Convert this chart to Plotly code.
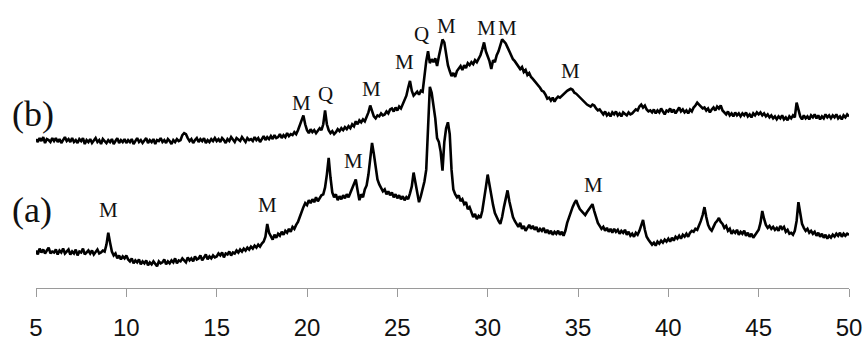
import plotly.graph_objects as go

# 2-theta scan: 5.0 .. 50.0 deg, step 0.1 deg
TWO_THETA_START = 5.0
TWO_THETA_STEP = 0.1

# Pattern (a) intensities (arbitrary units), one row per degree (x.0 .. x.9)
pattern_a = [
    38, 34, 40, 36, 39, 35, 38, 41, 35, 37,   # 5
    36, 39, 34, 38, 36, 40, 35, 37, 39, 34,   # 6
    37, 35, 39, 33, 37, 36, 40, 34, 36, 38,   # 7
    35, 38, 34, 37, 39, 35, 36, 38, 37, 44,   # 8
    56, 46, 37, 33, 35, 30, 33, 29, 32, 30,   # 9
    33, 29, 27, 30, 25, 28, 26, 29, 24, 27,   # 10
    25, 28, 23, 26, 24, 27, 25, 22, 27, 25,   # 11
    26, 29, 24, 27, 25, 28, 26, 30, 25, 28,   # 12
    27, 30, 28, 26, 31, 28, 30, 27, 32, 29,   # 13
    30, 33, 28, 31, 34, 29, 32, 30, 33, 31,   # 14
    32, 35, 33, 36, 31, 35, 34, 37, 33, 36,   # 15
    35, 38, 36, 39, 37, 40, 38, 41, 39, 42,   # 16
    40, 43, 41, 44, 42, 45, 47, 52, 65, 56,   # 17
    52, 49, 54, 51, 55, 53, 57, 54, 58, 56,   # 18
    60, 57, 62, 60, 64, 67, 72, 78, 82, 86,   # 19
    84, 89, 86, 90, 87, 92, 88, 91, 94, 95,   # 20
    102, 115, 132, 112, 97, 92, 95, 89, 93, 90,   # 21
    94, 91, 95, 92, 97, 101, 106, 110, 99, 89,    # 22
    95, 92, 100, 104, 115, 130, 147, 136, 120, 110,  # 23
    105, 101, 98, 100, 95, 98, 94, 97, 92, 95,    # 24
    91, 94, 90, 93, 89, 92, 90, 96, 103, 117,     # 25
    108, 97, 87, 93, 100, 108, 120, 165, 204, 198,  # 26
    186, 172, 152, 148, 138, 119, 148, 162, 168, 156,  # 27
    120, 100, 95, 92, 94, 88, 90, 85, 87, 80,     # 28
    82, 76, 72, 75, 70, 73, 71, 78, 88, 102,      # 29
    115, 104, 92, 84, 76, 71, 68, 65, 72, 82,     # 30
    92, 99, 88, 78, 72, 68, 65, 62, 66, 60,       # 31
    63, 58, 61, 64, 60, 63, 59, 62, 57, 60,       # 32
    58, 61, 56, 59, 55, 58, 54, 57, 55, 58,       # 33
    54, 57, 53, 58, 66, 72, 76, 82, 86, 89,       # 34
    84, 80, 78, 76, 74, 77, 80, 83, 85, 78,       # 35
    72, 66, 63, 60, 62, 58, 61, 57, 60, 56,       # 36
    60, 57, 59, 55, 58, 56, 59, 54, 57, 53,       # 37
    55, 52, 56, 54, 58, 63, 69, 59, 52, 49,       # 38
    47, 44, 46, 43, 47, 45, 48, 46, 49, 47,       # 39
    50, 47, 51, 48, 52, 50, 53, 50, 54, 52,       # 40
    55, 52, 56, 58, 57, 60, 59, 63, 68, 74,       # 41
    82, 72, 64, 60, 58, 62, 66, 68, 71, 67,       # 42
    65, 61, 63, 58, 60, 55, 58, 56, 59, 54,       # 43
    57, 55, 58, 53, 56, 52, 55, 51, 54, 56,       # 44
    59, 66, 78, 70, 64, 61, 63, 60, 62, 59,       # 45
    61, 58, 63, 60, 62, 57, 59, 55, 56, 54,       # 46
    58, 68, 87, 76, 65, 61, 58, 60, 56, 58,       # 47
    55, 57, 53, 56, 52, 55, 51, 54, 50, 53,       # 48
    51, 54, 52, 55, 53, 56, 52, 55, 53, 55,       # 49
    54,                                           # 50
]

# Pattern (b) intensities (arbitrary units, offset above (a))
pattern_b = [
    151, 148, 152, 149, 153, 147, 151, 150, 148, 152,  # 5
    149, 152, 148, 151, 147, 150, 153, 149, 151, 148,  # 6
    152, 148, 150, 147, 151, 149, 152, 146, 150, 148,  # 7
    151, 147, 149, 152, 148, 150, 146, 151, 149, 147,  # 8
    150, 148, 151, 146, 149, 152, 147, 150, 148, 151,  # 9
    147, 150, 148, 151, 146, 149, 152, 148, 150, 147,  # 10
    149, 152, 147, 150, 148, 151, 146, 150, 149, 152,  # 11
    148, 150, 147, 151, 149, 146, 150, 148, 151, 149,  # 12
    150, 155, 157, 156, 152, 149, 151, 147, 150, 152,  # 13
    148, 151, 149, 152, 147, 150, 148, 151, 149, 152,  # 14
    149, 151, 148, 152, 150, 147, 151, 149, 153, 150,  # 15
    148, 152, 150, 149, 153, 151, 148, 152, 150, 151,  # 16
    149, 153, 150, 152, 148, 151, 154, 150, 153, 151,  # 17
    154, 151, 155, 152, 153, 156, 152, 155, 153, 157,  # 18
    154, 156, 155, 158, 156, 160, 165, 172, 175, 166,  # 19
    160, 157, 161, 158, 160, 157, 159, 162, 160, 166,  # 20
    180, 166, 160, 157, 159, 156, 158, 161, 159, 162,  # 21
    160, 163, 161, 164, 162, 166, 164, 169, 166, 170,  # 22
    168, 171, 169, 173, 178, 185, 180, 174, 172, 175,  # 23
    174, 177, 175, 176, 179, 177, 181, 182, 179, 183,  # 24
    180, 184, 182, 187, 190, 195, 203, 210, 200, 195,  # 25
    197, 199, 196, 200, 199, 215, 230, 240, 228, 232,  # 26
    229, 233, 225, 235, 245, 252, 249, 236, 226, 220,  # 27
    215, 218, 214, 220, 222, 225, 221, 226, 223, 228,  # 28
    226, 229, 227, 231, 229, 233, 236, 242, 249, 240,  # 29
    235, 230, 222, 231, 229, 236, 240, 245, 252, 250,  # 30
    248, 244, 240, 236, 232, 230, 227, 225, 222, 224,  # 31
    219, 221, 216, 218, 214, 212, 210, 207, 205, 203,  # 32
    200, 199, 196, 192, 193, 190, 193, 189, 192, 194,  # 33
    193, 195, 196, 198, 200, 201, 202, 201, 198, 197,  # 34
    195, 193, 192, 190, 188, 186, 185, 184, 186, 185,  # 35
    182, 180, 181, 178, 176, 179, 175, 177, 174, 178,  # 36
    176, 179, 175, 177, 174, 178, 176, 175, 178, 176,  # 37
    177, 179, 181, 180, 184, 186, 183, 185, 181, 179,  # 38
    180, 178, 181, 177, 180, 178, 182, 179, 176, 180,  # 39
    179, 182, 178, 181, 177, 180, 183, 179, 181, 178,  # 40
    180, 177, 181, 179, 183, 185, 188, 186, 184, 182,  # 41
    183, 180, 182, 178, 181, 183, 180, 184, 182, 185,  # 42
    180, 178, 176, 179, 175, 177, 174, 178, 175, 177,  # 43
    174, 177, 175, 178, 174, 176, 173, 177, 175, 178,  # 44
    176, 178, 175, 177, 174, 176, 173, 175, 172, 174,  # 45
    171, 174, 172, 175, 171, 173, 170, 174, 172, 175,  # 46
    173, 188, 180, 174, 171, 175, 172, 174, 171, 175,  # 47
    173, 176, 172, 175, 171, 174, 172, 176, 173, 175,  # 48
    172, 175, 173, 176, 172, 174, 171, 175, 173, 176,  # 49
    174,                                               # 50
]

# Phase markers (M, Q)
peak_text = ["M", "M", "M", "M",
             "M", "Q", "M", "M", "Q", "M", "M", "M", "M"]
peak_x = [9.0, 17.8, 22.6, 35.85,
          19.7, 21.0, 23.55, 25.4, 26.35, 27.7, 29.95, 31.1, 34.6]
peak_y = [79.5, 84.5, 128.5, 104.5,
          187.5, 197, 201.5, 229.5, 258, 265.5, 263.5, 263.5, 220.5]

pattern_names = ["(a)", "(b)"]
pattern_label_y = [79, 176]

tick_vals = [5, 10, 15, 20, 25, 30, 35, 40, 45, 50]

two_theta = [round(TWO_THETA_START + i * TWO_THETA_STEP, 1) for i in range(len(pattern_a))]

SERIF = "Liberation Serif, Times New Roman, serif"

fig = go.Figure()
for ys in (pattern_a, pattern_b):
    fig.add_trace(go.Scatter(x=two_theta, y=ys, mode="lines",
                             line=dict(color="#000000", width=2.6),
                             showlegend=False, hoverinfo="skip"))

for t, px, py in zip(peak_text, peak_x, peak_y):
    fig.add_annotation(x=px, y=py, text=t, showarrow=False,
                       xanchor="center", yanchor="middle",
                       font=dict(family=SERIF, size=21, color="#111111"))

for lbl, ly in zip(pattern_names, pattern_label_y):
    fig.add_annotation(xref="paper", x=-0.032, y=ly, text=lbl, showarrow=False,
                       xanchor="left", yanchor="middle",
                       font=dict(family=SERIF, size=36, color="#111111"))

fig.update_layout(
    width=867, height=341,
    margin=dict(l=36, r=18, t=0, b=49, pad=0),
    paper_bgcolor="white", plot_bgcolor="white",
    xaxis=dict(range=[5, 50], tickvals=tick_vals, showgrid=False, zeroline=False,
               showline=True, linecolor="#9a9a9a", linewidth=1,
               ticks="outside", ticklen=8, tickwidth=1, tickcolor="#9a9a9a",
               ticklabelstandoff=10,
               tickfont=dict(family="Liberation Sans, Arial, sans-serif", size=24, color="#111111")),
    yaxis=dict(range=[0, 292], visible=False, showgrid=False, zeroline=False),
)

fig.write_html("out.html")
